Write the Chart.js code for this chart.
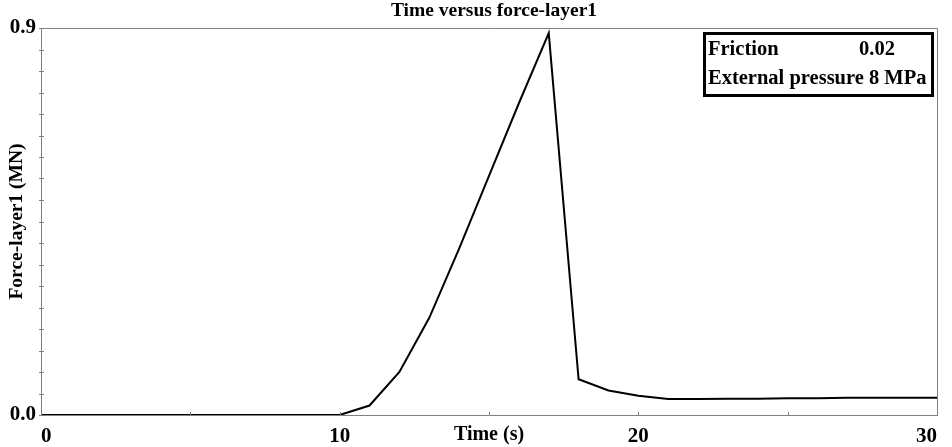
<!DOCTYPE html>
<html lang="en">
<head>
<meta charset="UTF-8">
<title>Time versus force-layer1</title>
<script src="https://cdn.jsdelivr.net/npm/chart.js"></script>
<style>
  body { margin: 0; background: #fff; }
  .chart-box { width: 952px; height: 447px; position: relative; }
</style>
</head>
<body>
<div class="chart-box"><canvas id="forceChart"></canvas></div>
<script>
// time steps (s) and force on layer 1 (MN)
const timeSec = [0, 1, 2, 3, 4, 5, 6, 7, 8, 9, 10, 11, 12, 13, 14, 15, 16, 17, 18, 19, 20,
                 21, 22, 23, 24, 25, 26, 27, 28, 29, 30];
const forceMN = [0, 0, 0, 0, 0, 0, 0, 0, 0, 0, 0, 0.022, 0.100, 0.226, 0.387, 0.556, 0.725, 0.888,
                 0.083, 0.057, 0.045, 0.037, 0.037, 0.038, 0.038, 0.039, 0.039, 0.040, 0.040, 0.040, 0.040];

const xLabelValues = [0, 10, 20, 30];
const xTickLabels = ['0', '10', '20', '30'];
const yLabelValues = [0, 0.9];
const yTickLabels = ['0.0', '0.9'];

const chartTitle = 'Time versus force-layer1';
const infoRows = [['Friction', '0.02'], ['External pressure 8 MPa', '']];

const serif = '"Liberation Serif", "Times New Roman", serif';
const axisGray = '#808080';

function labelFor(values, labels, v) {
    const i = values.findIndex(x => Math.abs(x - v) < 1e-6);
    return i >= 0 ? labels[i] : '';
}

// frame, inner tick marks, title and the parameter box
const decorPlugin = {
    id: 'decor',
    afterDraw(chart) {
        const { ctx, chartArea: a, scales } = chart;
        ctx.save();
        ctx.strokeStyle = axisGray;
        ctx.lineWidth = 1;
        ctx.beginPath();
        ctx.moveTo(a.left, a.top + 0.5);
        ctx.lineTo(a.right + 0.5, a.top + 0.5);
        ctx.lineTo(a.right + 0.5, a.bottom);
        ctx.stroke();

        ctx.beginPath();
        scales.x.ticks.forEach(t => {
            const px = Math.round(scales.x.getPixelForValue(t.value)) + 0.5;
            ctx.moveTo(px, a.bottom);
            ctx.lineTo(px, a.bottom - 3);
        });
        scales.y.ticks.forEach(t => {
            const py = Math.round(scales.y.getPixelForValue(t.value)) + 0.5;
            ctx.moveTo(a.left - 2, py);
            ctx.lineTo(a.left + 3, py);
        });
        ctx.stroke();

        ctx.fillStyle = '#000';
        ctx.font = 'bold 19.5px ' + serif;
        ctx.textAlign = 'center';
        ctx.textBaseline = 'middle';
        ctx.fillText(chartTitle, 494, 11);

        // parameter box
        ctx.strokeStyle = '#000';
        ctx.lineWidth = 3;
        ctx.strokeRect(704.5, 33.5, 228, 62);
        ctx.font = 'bold 20.5px ' + serif;
        ctx.textAlign = 'left';
        ctx.textBaseline = 'alphabetic';
        ctx.fillText(infoRows[0][0], 708, 55);
        ctx.fillText(infoRows[0][1], 859, 55);
        ctx.fillText(infoRows[1][0], 708, 84);
        ctx.restore();
    }
};

new Chart(document.getElementById('forceChart'), {
    type: 'line',
    data: {
        datasets: [{
            data: timeSec.map((t, i) => ({ x: t, y: forceMN[i] })),
            borderColor: '#000',
            borderWidth: 2,
            pointRadius: 0,
            tension: 0,
            fill: false
        }]
    },
    options: {
        responsive: true,
        maintainAspectRatio: false,
        animation: false,
        layout: { padding: { top: 28, right: 15, left: 0, bottom: 0 } },
        plugins: {
            legend: { display: false },
            tooltip: { enabled: false }
        },
        scales: {
            x: {
                type: 'linear',
                min: 0,
                max: 30,
                afterFit: s => { s.height = 32; s.paddingLeft = 0; s.paddingRight = 0; },
                grid: { display: false, drawTicks: false },
                border: { display: true, color: axisGray },
                ticks: {
                    stepSize: 5,
                    autoSkip: false,
                    maxRotation: 0,
                    align: 'inner',
                    padding: 9,
                    color: '#000',
                    font: { family: serif, size: 21, weight: 'bold' },
                    callback: v => labelFor(xLabelValues, xTickLabels, v)
                },
                title: {
                    display: true,
                    text: 'Time (s)',
                    color: '#000',
                    padding: { top: 0, bottom: 0 },
                    font: { family: serif, size: 20, weight: 'bold' }
                }
            },
            y: {
                min: 0,
                max: 0.9,
                afterFit: s => { s.width = 41; s.paddingTop = 0; s.paddingBottom = 0; },
                grid: { display: false, drawTicks: false },
                border: { display: true, color: axisGray },
                ticks: {
                    stepSize: 0.05,
                    autoSkip: false,
                    padding: 5,
                    color: '#000',
                    font: { family: serif, size: 21, weight: 'bold' },
                    callback: v => labelFor(yLabelValues, yTickLabels, v)
                },
                title: {
                    display: true,
                    text: 'Force-layer1 (MN)',
                    color: '#000',
                    padding: { top: 5, bottom: 0 },
                    font: { family: serif, size: 19.5, weight: 'bold' }
                }
            }
        }
    },
    plugins: [decorPlugin]
});
</script>
</body>
</html>
